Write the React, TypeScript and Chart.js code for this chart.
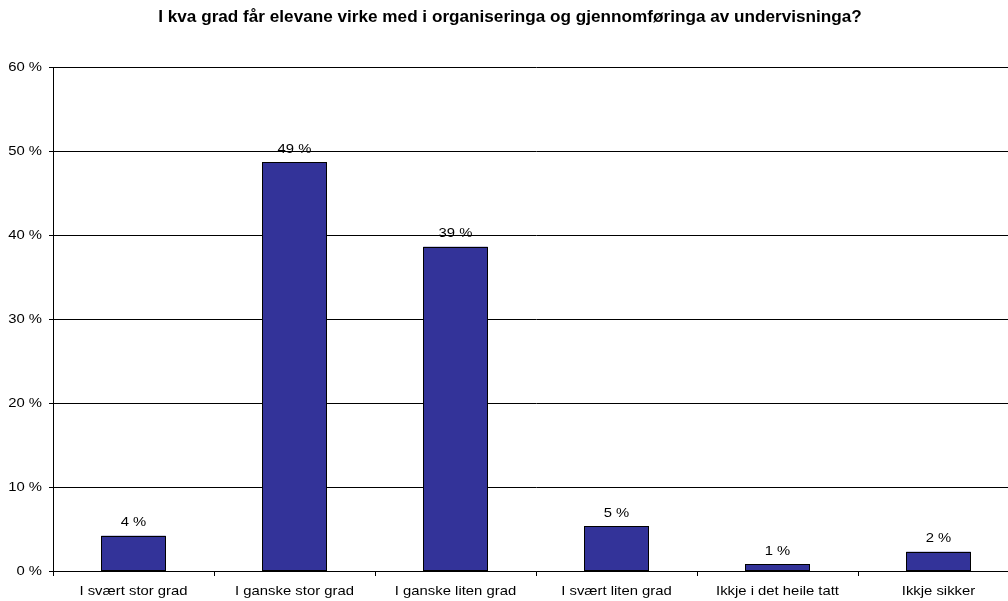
import React, { useEffect, useRef } from "react";
import { Chart, registerables } from "chart.js";

Chart.register(...registerables);

const TITLE = "I kva grad får elevane virke med i organiseringa og gjennomføringa av undervisninga?";
const categories = [
  "I svært stor grad",
  "I ganske stor grad",
  "I ganske liten grad",
  "I svært liten grad",
  "Ikkje i det heile tatt",
  "Ikkje sikker",
];
const values = [4.2, 48.7, 38.6, 5.3, 0.8, 2.3];
const valueLabels = ["4 %", "49 %", "39 %", "5 %", "1 %", "2 %"];
const yTicks = [0, 10, 20, 30, 40, 50, 60];

const FONT = "'Liberation Sans', Arial, sans-serif";
const SX = 1.1;

function drawText(ctx: CanvasRenderingContext2D, text: string, x: number, y: number, align: CanvasTextAlign) {
  ctx.save();
  ctx.translate(x, y);
  ctx.scale(SX, 1);
  ctx.textAlign = align;
  ctx.fillText(text, 0, 0);
  ctx.restore();
}

const overlayPlugin = {
  id: "overlay",
  afterDatasetsDraw(chart: any) {
    const ctx = chart.ctx as CanvasRenderingContext2D;
    const meta = chart.getDatasetMeta(0);
    ctx.save();
    ctx.strokeStyle = "#000";
    ctx.lineWidth = 1;
    meta.data.forEach((bar: any) => {
      const l = Math.round(bar.x - bar.width / 2) + 0.5;
      const r = Math.round(bar.x + bar.width / 2) - 0.5;
      const t = Math.round(bar.y) + 0.5;
      const b = Math.round(bar.base) - 0.5;
      ctx.strokeRect(l, t, r - l, b - t);
    });
    ctx.restore();
  },
  afterDraw(chart: any) {
    const ctx = chart.ctx as CanvasRenderingContext2D;
    const meta = chart.getDatasetMeta(0);
    const xs = chart.scales.x;
    const ys = chart.scales.y;
    ctx.save();
    ctx.fillStyle = "#000";
    ctx.textBaseline = "middle";
    ctx.font = `13.5px ${FONT}`;
    meta.data.forEach((bar: any, i: number) => {
      drawText(ctx, valueLabels[i], bar.x, bar.y - 13, "center");
    });
    categories.forEach((c, i) => {
      drawText(ctx, c, xs.getPixelForValue(i), 591, "center");
    });
    yTicks.forEach((v) => {
      drawText(ctx, `${v} %`, 42, ys.getPixelForValue(v), "right");
    });
    ctx.font = `bold 15.6px ${FONT}`;
    drawText(ctx, TITLE, 510, 18, "center");
    ctx.restore();
  },
};

export default function App() {
  const ref = useRef<HTMLCanvasElement>(null);
  useEffect(() => {
    if (!ref.current) return;
    const chart = new Chart(ref.current, {
      type: "bar",
      data: {
        labels: categories,
        datasets: [
          {
            data: values,
            backgroundColor: "#333399",
            borderWidth: 0,
            categoryPercentage: 0.4,
            barPercentage: 1,
          },
        ],
      },
      options: {
        responsive: false,
        animation: false,
        layout: { padding: { top: 67, left: 0, right: 5, bottom: 0 } },
        plugins: {
          legend: { display: false },
          title: { display: false },
          tooltip: { enabled: false },
        },
        scales: {
          x: {
            grid: {
              offset: true,
              drawOnChartArea: false,
              drawTicks: true,
              tickLength: 5,
              color: "#000",
            },
            border: { color: "#000" },
            ticks: { display: false, autoSkip: false },
            afterFit(scale: any) {
              scale.height = 30;
            },
          },
          y: {
            min: 0,
            max: 60,
            afterBuildTicks(scale: any) {
              scale.ticks = yTicks.map((v) => ({ value: v }));
            },
            grid: {
              color: "#000",
              drawTicks: true,
              tickLength: 4,
            },
            border: { color: "#000" },
            ticks: { display: false },
            afterFit(scale: any) {
              scale.width = 53;
            },
          },
        },
      },
      plugins: [overlayPlugin],
    });
    return () => chart.destroy();
  }, []);
  return (
    <div
      style={{
        position: "absolute",
        left: 0,
        top: 0,
        width: 1008,
        height: 601,
        overflow: "hidden",
        background: "#fff",
      }}
    >
      <canvas ref={ref} width={1024} height={601} style={{ display: "block" }} />
    </div>
  );
}
